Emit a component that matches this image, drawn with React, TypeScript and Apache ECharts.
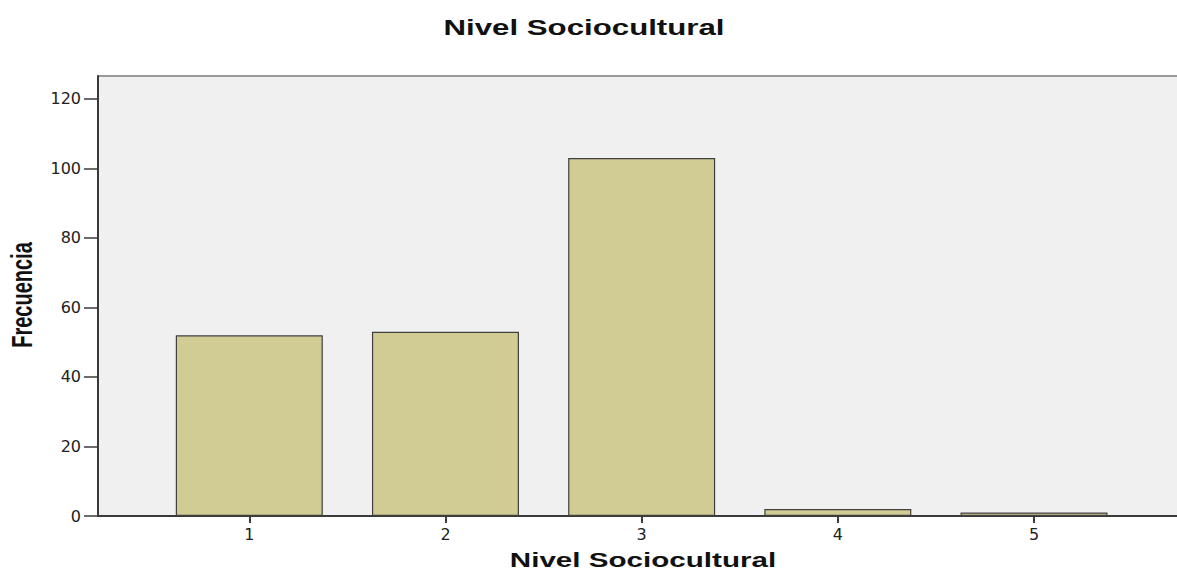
import React, { useEffect, useRef } from "react";
import * as echarts from "echarts";

const categories = ["1", "2", "3", "4", "5"];
const frequencies = [52, 53, 103, 2, 1];
const yTicks = [0, 20, 40, 60, 80, 100, 120];
const titleText = "Nivel Sociocultural";
const xAxisTitle = "Nivel Sociocultural";
const yAxisTitle = "Frecuencia";

export default function App() {
  const ref = useRef<HTMLDivElement>(null);
  useEffect(() => {
    if (!ref.current) return;
    const chart = echarts.init(ref.current, null, { renderer: "svg" });
    const xVals = categories.map((c) => Number(c));
    chart.setOption({
      animation: false,
      backgroundColor: "#ffffff",
      grid: {
        left: 98,
        top: 76,
        right: -2,
        bottom: 55,
        show: true,
        backgroundColor: "#eff0ef",
        borderColor: "#7a7a7a",
        borderWidth: 1.5,
        containLabel: false,
        outerBoundsMode: "none",
      },
      xAxis: {
        type: "value",
        min: 0.2288,
        max: 5.739,
        splitLine: { show: false },
        axisLine: { show: true, onZero: false, lineStyle: { color: "#3a3a3a", width: 2 } },
        axisTick: {
          show: true,
          length: 7,
          customValues: xVals,
          lineStyle: { color: "#3a3a3a", width: 2 },
        },
        axisLabel: {
          customValues: xVals,
          margin: 10,
          fontFamily: "DejaVu Sans",
          fontSize: 16,
          color: "#222",
          formatter: (v: number) => categories[xVals.indexOf(Math.round(v))] ?? "",
        },
      },
      yAxis: {
        type: "value",
        min: 0,
        max: 126.6,
        splitLine: { show: false },
        axisLine: { show: true, lineStyle: { color: "#3a3a3a", width: 2 } },
        axisTick: {
          show: true,
          length: 14,
          customValues: yTicks,
          lineStyle: { color: "#3a3a3a", width: 1.5 },
        },
        axisLabel: {
          customValues: yTicks,
          margin: 17,
          fontFamily: "DejaVu Sans",
          fontSize: 16,
          color: "#222",
        },
      },
      series: [
        {
          type: "bar",
          barWidth: 147,
          data: categories.map((c, i) => [Number(c), frequencies[i]]),
          itemStyle: {
            color: "#d1cc94",
            borderColor: "#404040",
            borderWidth: 1.2,
          },
        },
      ],
      graphic: [
        {
          type: "text",
          x: 584,
          y: 28,
          scaleX: 1.42,
          style: {
            text: titleText,
            font: "bold 22px 'Liberation Sans', Arial, sans-serif",
            fill: "#111",
            align: "center",
            verticalAlign: "middle",
          },
        },
        {
          type: "text",
          x: 643,
          y: 560,
          scaleX: 1.41,
          style: {
            text: xAxisTitle,
            font: "bold 21px 'Liberation Sans', Arial, sans-serif",
            fill: "#111",
            align: "center",
            verticalAlign: "middle",
          },
        },
        {
          type: "text",
          x: 22,
          y: 295,
          rotation: Math.PI / 2,
          scaleY: 1.45,
          style: {
            text: yAxisTitle,
            font: "bold 20px 'Liberation Sans', Arial, sans-serif",
            fill: "#111",
            align: "center",
            verticalAlign: "middle",
          },
        },
      ],
    });
    return () => chart.dispose();
  }, []);
  return (
    <div
      ref={ref}
      style={{ position: "fixed", left: 0, top: 0, width: 1177, height: 571 }}
    />
  );
}
